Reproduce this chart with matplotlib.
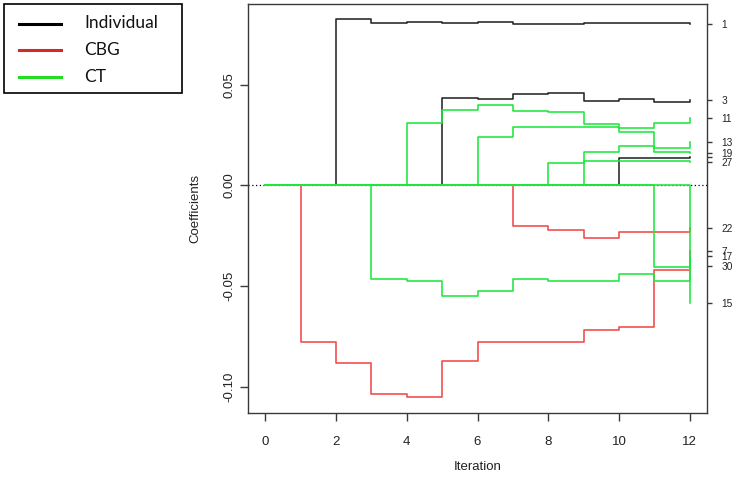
import matplotlib
matplotlib.use('Agg')
import matplotlib.pyplot as plt
from matplotlib.lines import Line2D
from matplotlib.patches import Rectangle

# ---------------- data ----------------
iterations = list(range(13))

# Individual (black)
ind_1 = [0, 0, 0.0827, 0.0805, 0.0812, 0.0805, 0.0810, 0.0802, 0.0802, 0.0805, 0.0805, 0.0808, 0.0802]
ind_3 = [0, 0, 0, 0, 0, 0.0435, 0.0429, 0.0452, 0.0457, 0.0418, 0.0430, 0.0413, 0.0423]
ind_x = [0, 0, 0, 0, 0, 0, 0, 0, 0, 0, 0.0134, 0.0136, 0.0139]

# CBG (red)
cbg_7 = [0, -0.0777, -0.0880, -0.1034, -0.1051, -0.0870, -0.0777, -0.0777, -0.0777, -0.0719, -0.0703, -0.0421, -0.0328]
cbg_22 = [0, 0, 0, 0, 0, 0, 0, -0.0204, -0.0222, -0.0263, -0.0231, -0.0231, -0.0214]

# CT (green)
ct_11 = [0, 0, 0, 0, 0.0311, 0.0373, 0.0398, 0.0372, 0.0367, 0.0303, 0.0286, 0.0311, 0.0334]
ct_19 = [0, 0, 0, 0, 0, 0, 0.0239, 0.0288, 0.0288, 0.0288, 0.0265, 0.0164, 0.0162]
ct_13 = [0, 0, 0, 0, 0, 0, 0, 0, 0.0109, 0.0164, 0.0195, 0.0187, 0.0214]
ct_27 = [0, 0, 0, 0, 0, 0, 0, 0, 0, 0.0122, 0.0122, 0.0119, 0.0115]
ct_17 = [0, 0, 0, -0.0467, -0.0475, -0.0549, -0.0524, -0.0463, -0.0474, -0.0477, -0.0441, -0.0476, -0.0351]
ct_30 = [0, 0, 0, 0, 0, 0, 0, 0, 0, 0, 0, -0.0405, -0.0400]
ct_15 = [0, 0, 0, 0, 0, 0, 0, 0, 0, 0, 0, 0, -0.0583]

legend_labels = ["Individual", "CBG", "CT"]
x_ticks = [0, 2, 4, 6, 8, 10, 12]
y_ticks = [-0.10, -0.05, 0.00, 0.05]
y_tick_labels = ["-0.10", "-0.05", "0.00", "0.05"]

COL = {"Individual": "#262626", "CBG": "#f24848", "CT": "#1ee83c"}

series = [
    ("1", "Individual", ind_1),
    ("3", "Individual", ind_3),
    ("", "Individual", ind_x),
    ("7", "CBG", cbg_7),
    ("22", "CBG", cbg_22),
    ("11", "CT", ct_11),
    ("13", "CT", ct_13),
    ("19", "CT", ct_19),
    ("27", "CT", ct_27),
    ("17", "CT", ct_17),
    ("30", "CT", ct_30),
    ("15", "CT", ct_15),
]

# ---------------- figure ----------------
W, H = 738, 479
fig = plt.figure(figsize=(W / 100, H / 100), dpi=100)
plt.rcParams['font.family'] = ['Liberation Sans', 'DejaVu Sans']

left, right, top, bottom = 248.3, 706.7, 4.0, 412.7
ax = fig.add_axes([left / W, 1 - bottom / H, (right - left) / W, (bottom - top) / H])

ax.axhline(0, color='black', lw=0.9, ls=(0, (1, 2)), zorder=1)

zord = {"Individual": 2, "CBG": 3, "CT": 4}
for lab, grp, vals in series:
    ax.plot(iterations, vals, drawstyle='steps-post', color=COL[grp], lw=1.15,
            zorder=zord[grp])

ax.set_xlim(-0.48, 12.48)
ax.set_ylim(-0.1129, 0.0901)

ax.set_xticks(x_ticks)
ax.set_xticklabels([str(t) for t in x_ticks])
ax.set_yticks(y_ticks)
ax.set_yticklabels(y_tick_labels, rotation=90, va='center')

for s in ax.spines.values():
    s.set_color('#3a3a3a')
    s.set_linewidth(1.0)

ax.tick_params(axis='x', direction='out', length=5.5, width=1.0, color='#3a3a3a',
               labelsize=9.5, pad=11, labelcolor='#222222')
ax.tick_params(axis='y', direction='out', length=5.5, width=1.0, color='#3a3a3a',
               labelsize=9.5, pad=4, labelcolor='#222222')

# right-hand labels at final values
ax2 = ax.twinx()
ax2.set_ylim(ax.get_ylim())
finals = [vals[-1] for lab, grp, vals in series]
ax2.set_yticks(finals)
ax2.set_yticklabels([lab for lab, grp, vals in series])
ax2.tick_params(axis='y', direction='out', length=3.5, width=1.0, color='#3a3a3a',
                labelsize=7.3, pad=7, labelcolor='#222222')
for s in ax2.spines.values():
    s.set_visible(False)

fig.text(477.5 / W, 1 - 467 / H, "Iteration", ha='center', va='center',
         fontsize=9.5, color='#222222')
fig.text(195 / W, 1 - 208 / H, "Coefficients", ha='center', va='center',
         rotation=90, fontsize=9.5, color='#222222')

# ---------------- legend box ----------------
fig.patches.append(Rectangle((4 / W, 1 - 93 / H), (182 - 4) / W, (93 - 4) / H,
                             transform=fig.transFigure, fill=False,
                             edgecolor='black', lw=1.2))
leg_cols = ["#000000", "#d42a2a", "#22dd22"]
leg_y = [23.5, 50, 76.5]
for lab, c, yy in zip(legend_labels, leg_cols, leg_y):
    fig.lines.append(Line2D([19 / W, 61 / W], [1 - yy / H, 1 - yy / H],
                            transform=fig.transFigure, color=c, lw=2.2))
    fig.text(84 / W, 1 - yy / H, lab, ha='left', va='center', fontsize=12.5,
             family=['Lato', 'DejaVu Sans'], color='#111111')

fig.savefig("out.png", dpi=100)
